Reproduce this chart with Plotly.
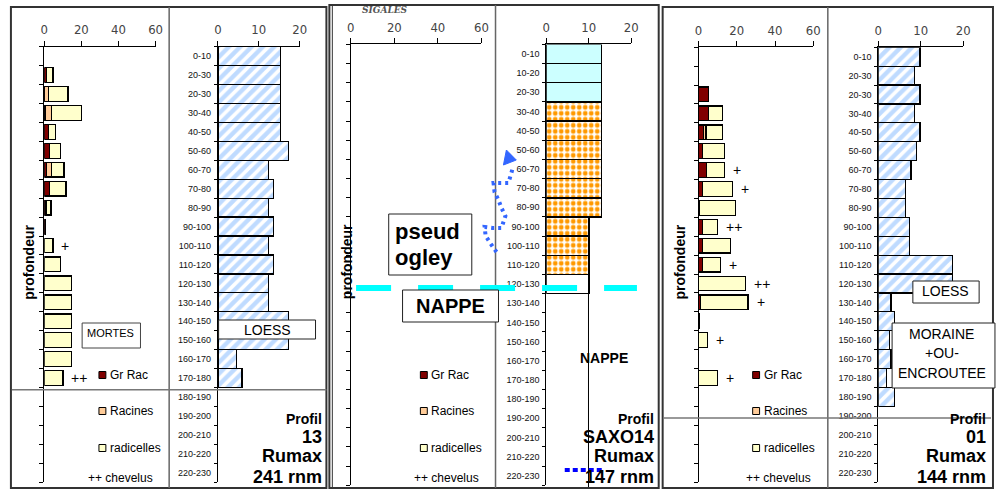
import plotly.graph_objects as go

W, H = 998, 491
def px(x): return x / W
def py(y): return 1 - y / H

# ---------------- data ----------------
labels_a = ["0-10", "20-30", "20-30", "30-40", "40-50", "50-60", "60-70", "70-80", "80-90",
            "90-100", "100-110", "110-120", "120-130", "130-140", "140-150", "150-160",
            "160-170", "170-180", "180-190", "190-200", "200-210", "210-220", "220-230"]
labels_b = ["0-10", "10-20", "20-30", "30-40", "40-50", "50-60", "60-70", "70-80", "80-90",
            "90-100", "100-110", "110-120", "120-130", "130-140", "140-150", "150-160",
            "160-170", "170-180", "180-190", "190-200", "200-210", "210-220", "220-230"]

# Profil 13
grrac_13 = [0, 1, 0.3, 0.4, 2.3, 2.7, 1.1, 2.7, 0.9, 0.6, 0, 0, 0, 0, 0, 0, 0, 0, 0, 0, 0, 0, 0]
racines_13 = [0, 0, 2, 3.3, 0, 0, 2.7, 0, 0, 0, 0, 0, 0, 0, 0, 0, 0, 0, 0, 0, 0, 0, 0]
radicelles_13 = [0, 3.7, 10.5, 16.3, 3.8, 6.1, 6.8, 9, 2.7, 0.1, 4.7, 8.8, 14.6, 14.6, 14.6,
                 14.6, 14.6, 10.1, 0, 0, 0, 0, 0]
chevelus_13 = ["", "", "", "", "", "", "", "", "", "", "+", "", "", "", "", "", "", "++",
               "", "", "", "", ""]
sol_13 = [15.4, 15.4, 15.4, 15.4, 15.4, 17.3, 12.3, 13.6, 12.3, 13.6, 12.3, 13.6, 12.3, 12.3,
          17.3, 17.3, 4.6, 5.9, 0, 0, 0, 0, 0]

# Profil SAXO14
grrac_14 = [0] * 23
racines_14 = [0] * 23
radicelles_14 = [0] * 23
chevelus_14 = [""] * 23
sol_14 = [13, 13, 13, 13, 13, 13, 13, 13, 13, 10, 10, 10, 10, 0, 0, 0, 0, 0, 0, 0, 0, 0, 0]

# Profil 01
grrac_01 = [0, 0, 5, 5, 2.5, 2, 4, 2, 0.2, 2, 2, 2, 0, 1, 0.7, 0, 0, 0, 0, 0, 0, 0, 0]
racines_01 = [0, 0, 0, 0, 1.4, 0, 0, 0, 0, 0, 0, 0, 0, 0, 0, 0, 0, 0, 0, 0, 0, 0, 0]
radicelles_01 = [0, 0, 0, 7.4, 8.5, 11.6, 9.6, 15.6, 19.1, 7.7, 14.6, 9.4, 24.5, 24.9, 0,
                 4.5, 0, 9.7, 0, 0, 0, 0, 0]
chevelus_01 = ["", "", "", "", "", "", "+", "+", "", "++", "", "+", "++", "+", "", "+", "",
               "+", "", "", "", "", ""]
sol_01 = [9.8, 8.5, 9.8, 8.5, 9.8, 9, 7.7, 6.4, 6.4, 7.4, 7.4, 17.5, 17.5, 3, 3.8, 2.6, 3,
          2, 3.8, 0, 0, 0, 0]

root_ticks = [0, 20, 40, 60]
soil_ticks = [0, 10, 20]

C_GRRAC = "#800000"
C_RAC = "#ffcc99"
C_RADI = "#ffffcc"

rows = list(range(23))
bounds = [k - 0.5 for k in range(24)]

def nz(a):
    return [v if v else None for v in a]

panels = [
    dict(labels=labels_a, gr=grrac_13, ra=racines_13, rd=radicelles_13, ch=chevelus_13,
         sol=sol_13, rx=(40.7, 153.3), sx=(216.3, 299), yt=46.5, yb=482.4, style="hatch"),
    dict(labels=labels_b, gr=grrac_14, ra=racines_14, rd=radicelles_14, ch=chevelus_14,
         sol=sol_14, rx=(350.7, 482.7), sx=(548.3, 634.3), yt=44.4, yb=485.3, style="mid"),
    dict(labels=labels_a, gr=grrac_01, ra=racines_01, rd=radicelles_01, ch=chevelus_01,
         sol=sol_01, rx=(702.3, 818.3), sx=(884, 970), yt=47.2, yb=482.0, style="hatch"),
]

fig = go.Figure()
layout = dict(width=W, height=H, margin=dict(l=0, r=0, t=0, b=0), autosize=False,
              plot_bgcolor="rgba(0,0,0,0)", paper_bgcolor="white", barmode="stack",
              showlegend=False, font=dict(family="Liberation Sans, Arial", color="black"))
annotations = []
shapes = []

tickfont_top = dict(family="Liberation Sans Narrow, DejaVu Sans Condensed, Liberation Sans",
                    size=13, color="#444444")

for i, p in enumerate(panels):
    ra_i, so_i = 2 * i + 1, 2 * i + 2
    xr, yr = f"x{ra_i}", f"y{ra_i}"
    xs, ys = f"x{so_i}", f"y{so_i}"
    ydom = [py(p["yb"]), py(p["yt"])]

    for vals, col in ((p["gr"], C_GRRAC), (p["ra"], C_RAC), (p["rd"], C_RADI)):
        fig.add_trace(go.Bar(
            y=rows, x=nz(vals), orientation="h", xaxis=xr, yaxis=yr, width=0.78,
            marker=dict(color=col, line=dict(color="black", width=1.2)),
            hoverinfo="skip"))
    totals = [a + b + c for a, b, c in zip(p["gr"], p["ra"], p["rd"])]
    for r, (t, s) in enumerate(zip(totals, p["ch"])):
        if s:
            annotations.append(dict(x=t + 3.5, y=r, xref=xr, yref=yr, text=s, showarrow=False,
                                    xanchor="left", yanchor="middle",
                                    font=dict(size=14, color="black")))

    if p["style"] == "hatch":
        marker = dict(color="white", line=dict(color="black", width=1.2),
                      pattern=dict(shape="/", fgcolor="#80b8ff", bgcolor="white",
                                   size=8, solidity=0.55))
    else:
        shp, fg, bg = [], [], []
        for r in rows:
            if r < 3:
                shp.append(""); fg.append("#ccffff"); bg.append("#ccffff")
            elif r == 3:
                shp.append("."); fg.append("#ccffff"); bg.append("#ff9900")
            elif r < 12:
                shp.append("."); fg.append("#c0c0c0"); bg.append("#ff9900")
            else:
                shp.append("/"); fg.append("#ffcc99"); bg.append("white")
        colors = [b for b in bg]
        marker = dict(color=colors, line=dict(color="black", width=1.5),
                      pattern=dict(shape=shp, fgcolor=fg, bgcolor=bg, size=6, solidity=0.5,
                                   fillmode="replace"))
    fig.add_trace(go.Bar(y=rows, x=nz(p["sol"]), orientation="h", xaxis=xs, yaxis=ys,
                         width=1.0, marker=marker, hoverinfo="skip"))

    common_x = dict(side="top", showline=True, linecolor="black", linewidth=1, ticks="outside",
                    ticklen=5, tickcolor="black", showgrid=False, zeroline=False,
                    tickfont=tickfont_top, ticklabelstandoff=1, fixedrange=True)
    layout[f"xaxis{ra_i}"] = dict(common_x, domain=[px(p["rx"][0]), px(p["rx"][1])],
                                  range=[0, 60], tickvals=root_ticks, anchor=yr)
    layout[f"xaxis{so_i}"] = dict(common_x, domain=[px(p["sx"][0]), px(p["sx"][1])],
                                  range=[0, 20], tickvals=soil_ticks, anchor=ys)
    layout[f"yaxis{ra_i}"] = dict(domain=ydom, range=[22.5, -0.5], anchor=xr, showline=True,
                                  linecolor="black", linewidth=1, tickmode="array",
                                  tickvals=bounds, ticktext=[""] * len(bounds), ticks="outside",
                                  ticklen=4, tickcolor="black", showgrid=False, zeroline=False,
                                  fixedrange=True)
    layout[f"yaxis{so_i}"] = dict(domain=ydom, range=[22.5, -0.5], anchor=xs, showline=True,
                                  linecolor="black", linewidth=1, tickmode="array",
                                  tickvals=rows, ticktext=p["labels"], ticks="", ticklen=0,
                                  ticklabelstandoff=4,
                                  tickfont=dict(family="Liberation Sans, Arial", size=9,
                                                color="#111111"),
                                  minor=dict(tickmode="array", tickvals=bounds, ticks="outside",
                                             ticklen=3, tickcolor="black"),
                                  showgrid=False, zeroline=False, fixedrange=True)

# ---------------- decorations ----------------
def rect(x0, y0, x1, y1, line="black", width=1, fill="white", layer="above"):
    shapes.append(dict(type="rect", xref="paper", yref="paper", x0=px(x0), x1=px(x1),
                       y0=py(y1), y1=py(y0), line=dict(color=line, width=width),
                       fillcolor=fill, layer=layer))

def line(x0, y0, x1, y1, color="#666666", width=1.5, dash="solid"):
    shapes.append(dict(type="line", xref="paper", yref="paper", x0=px(x0), x1=px(x1),
                       y0=py(y0), y1=py(y1), line=dict(color=color, width=width, dash=dash),
                       layer="above"))

def text(x, y, s, size=12, xanchor="center", bold=False, color="black", family=None,
         italic=False, yanchor="middle"):
    if bold:
        s = f"<b>{s}</b>"
    if italic:
        s = f"<i>{s}</i>"
    f = dict(size=size, color=color)
    if family:
        f["family"] = family
    annotations.append(dict(x=px(x), y=py(y), xref="paper", yref="paper", text=s,
                            showarrow=False, xanchor=xanchor, yanchor=yanchor, font=f))

# panel frames
rect(7, 7, 326, 488, line="#333333", width=2, fill="rgba(0,0,0,0)")
rect(329, 5, 662, 488, line="#333333", width=2, fill="rgba(0,0,0,0)")
line(332, 5, 332, 488, color="#333333", width=1)
rect(666, 7, 1000, 488, line="#333333", width=2, fill="rgba(0,0,0,0)")
# dividers
line(167, 7, 167, 488)
line(497, 5, 497, 488)
line(833, 7, 833, 488)
# horizontal separators
line(8, 389.7, 326, 389.7, color="#777777", width=1.5)
line(667, 418, 998, 418, color="#777777", width=1.5)
# vertical line in middle soil panel
line(591, 293, 591, 487, color="black", width=1)

# legend blocks
for sx, tx, chx in ((96, 105, 153), (421, 430, 482), (757, 766, 818)):
    for yy, col, lab in ((375, C_GRRAC, "Gr Rac"), (411, C_RAC, "Racines"),
                         (448, C_RADI, "radicelles")):
        rect(sx, yy - 3.5, sx + 7, yy + 3.5, line="black", width=1, fill=col)
        text(tx, yy, lab, size=12, xanchor="left")
    text(chx, 478, "++ chevelus", size=12, xanchor="right")

# profondeur labels
for xx in (25, 347, 684):
    annotations.append(dict(x=px(xx), y=py(262), xref="paper", yref="paper",
                            text="<b>profondeur</b>", showarrow=False, textangle=-90,
                            xanchor="center", yanchor="middle", font=dict(size=14)))

# text boxes left panel
rect(79, 323, 138, 348, line="#444444", width=1)
text(82, 333, "MORTES", size=11, xanchor="left")
rect(217, 320, 315, 339, line="#222222", width=1)
text(266, 330, "LOESS", size=14)

# middle panel boxes
rect(389, 214, 473, 275, line="#222222", width=1)
text(393, 231, "pseud", size=22, xanchor="left", bold=True)
text(393, 257, "ogley", size=22, xanchor="left", bold=True)
line(356, 288, 640, 288, color="#00ffff", width=6, dash="35px,27px")
rect(403, 290, 500, 322, line="#222222", width=1)
text(451, 306, "NAPPE", size=20, bold=True)
text(607, 358, "NAPPE", size=14, bold=True)
line(567, 470, 607, 470, color="#0000ff", width=4, dash="5px,3px")

# blue dotted arrow
pts = [(498, 252), (493, 245), (487, 236), (486, 227), (494, 228), (503, 228), (507, 216),
       (503, 208), (500, 200), (496, 192), (495, 183), (503, 183), (510, 183), (513, 173),
       (515, 166)]
path = "M " + " L ".join(f"{px(a):.5f},{py(b):.5f}" for a, b in pts)
shapes.append(dict(type="path", xref="paper", yref="paper", path=path,
                   line=dict(color="#3366ff", width=4, dash="3px,4px"), layer="above"))
tri = [(508, 150), (518, 160), (505, 165)]
path = "M " + " L ".join(f"{px(a):.5f},{py(b):.5f}" for a, b in tri) + " Z"
shapes.append(dict(type="path", xref="paper", yref="paper", path=path,
                   line=dict(color="#3366ff", width=1), fillcolor="#3366ff", layer="above"))

# logo (kept above the tick labels)
text(385, 10, "SIGALES", size=9, italic=True, bold=True, color="#555555",
     family="DejaVu Serif")

# right panel boxes
rect(919, 281, 986, 303, line="#222222", width=1)
text(952, 291, "LOESS", size=14)
rect(898, 323, 1002, 388, line="#222222", width=1)
text(948, 334, "MORAINE", size=14)
text(948, 353, "+OU-", size=14)
text(948, 373, "ENCROUTEE", size=14)

# profil captions
for xr_, lines_ in ((324, ("13", "241 rnm")), (659, ("SAXO14", "147 rnm")),
                    (995, ("01", "144 rnm"))):
    text(xr_, 419, "Profil", size=14, bold=True, xanchor="right")
    text(xr_, 437, lines_[0], size=18, bold=True, xanchor="right")
    text(xr_, 456, "Rumax", size=18, bold=True, xanchor="right")
    text(xr_, 477, lines_[1], size=18, bold=True, xanchor="right")

layout["shapes"] = shapes
layout["annotations"] = annotations
fig.update_layout(**layout)

fig.write_html("out.html", config={"displayModeBar": False, "staticPlot": True},
               post_script="document.body.style.margin='0';")
